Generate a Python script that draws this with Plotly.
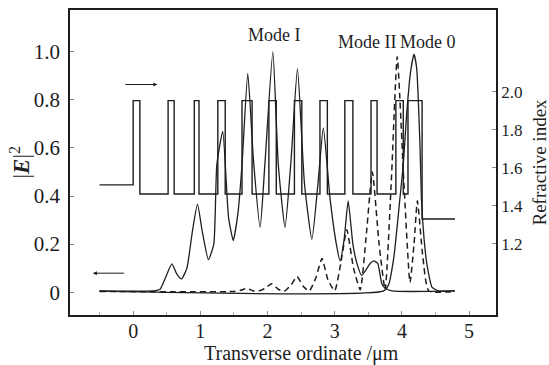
import plotly.graph_objects as go

# ---- Refractive index profile (step) ----
n_x = [-0.5, 0.0, 0.10, 0.52, 0.61, 0.91, 0.98, 1.26, 1.37, 1.62, 1.77, 2.02, 2.13,
       2.40, 2.51, 2.78, 2.89, 3.15, 3.27, 3.54, 3.63, 3.91, 4.02, 4.09, 4.30, 4.79]
n_v = [1.51, 1.953, 1.462, 1.953, 1.462, 1.953, 1.462, 1.953, 1.462, 1.953, 1.462,
       1.953, 1.462, 1.953, 1.462, 1.953, 1.462, 1.953, 1.462, 1.953, 1.462,
       1.953, 1.462, 1.953, 1.33, 1.33]

# ---- Mode I (solid) ----
m1_x = [-0.5, 0.30, 0.40, 0.48, 0.576, 0.65, 0.72, 0.80, 0.88, 0.957, 1.03, 1.12, 1.20,
        1.245, 1.333, 1.42, 1.49, 1.56, 1.62, 1.706, 1.79, 1.89, 1.96, 2.079, 2.16, 2.26,
        2.35, 2.445, 2.55, 2.66, 2.75, 2.83, 2.93, 3.03, 3.08, 3.14, 3.20, 3.27, 3.33,
        3.40, 3.53, 3.58, 3.64, 3.70, 3.75, 3.85, 4.79]
m1_v = [0.005, 0.005, 0.012, 0.06, 0.118, 0.075, 0.055, 0.10, 0.25, 0.366, 0.25, 0.135,
        0.20, 0.53, 0.669, 0.31, 0.215, 0.33, 0.53, 0.91, 0.55, 0.27, 0.53, 1.0, 0.53, 0.27,
        0.55, 0.93, 0.45, 0.22, 0.45, 0.683, 0.39, 0.19, 0.13, 0.22, 0.38, 0.20, 0.12,
        0.07, 0.12, 0.13, 0.12, 0.036, 0.017, 0.005, 0.005]

# ---- Mode II (dashed) ----
m2_x = [-0.5, 1.50, 1.60, 1.69, 1.78, 1.85, 1.96, 2.06, 2.16, 2.25, 2.35, 2.44, 2.53,
        2.62, 2.72, 2.81, 2.90, 3.00, 3.09, 3.18, 3.28, 3.38, 3.47, 3.56, 3.66, 3.75,
        3.84, 3.93, 4.03, 4.12, 4.18, 4.23, 4.31, 4.40, 4.79]
m2_v = [0.003, 0.003, 0.008, 0.015, 0.006, 0.003, 0.015, 0.035, 0.012, 0.004, 0.03, 0.065,
        0.025, 0.005, 0.06, 0.14, 0.05, 0.006, 0.12, 0.26, 0.10, 0.01, 0.24, 0.50, 0.20,
        0.01, 0.45, 0.98, 0.45, 0.04, 0.20, 0.38, 0.15, 0.005, 0.003]

# ---- Mode 0 (solid) ----
m0_x = [-0.5, 3.72, 3.80, 3.88, 3.97, 4.02, 4.07, 4.13, 4.18, 4.22, 4.27, 4.29, 4.33,
        4.37, 4.45, 4.55, 4.79]
m0_v = [0.004, 0.004, 0.03, 0.146, 0.39, 0.53, 0.74, 0.92, 0.99, 0.93, 0.60, 0.39, 0.22,
        0.12, 0.02, 0.005, 0.005]

x_ticks = [0, 1, 2, 3, 4, 5]
y1_ticks = [0, 0.2, 0.4, 0.6, 0.8, 1.0]
y1_text = ["0", "0.2", "0.4", "0.6", "0.8", "1.0"]
y2_ticks = [1.2, 1.4, 1.6, 1.8, 2.0]
y2_text = ["1.2", "1.4", "1.6", "1.8", "2.0"]

FONT = "Liberation Serif"
INK = "#1e1e1e"

fig = go.Figure()
fig.add_trace(go.Scatter(x=n_x, y=n_v, mode="lines", line=dict(shape="hv", color=INK, width=1.4),
                         yaxis="y2", showlegend=False))
fig.add_trace(go.Scatter(x=m1_x, y=m1_v, mode="lines",
                         line=dict(color=INK, width=1.3, shape="spline", smoothing=0.5),
                         showlegend=False))
fig.add_trace(go.Scatter(x=m2_x, y=m2_v, mode="lines",
                         line=dict(color=INK, width=1.5, dash="6px,4px", shape="spline", smoothing=0.5),
                         showlegend=False))
fig.add_trace(go.Scatter(x=m0_x, y=m0_v, mode="lines",
                         line=dict(color=INK, width=1.3, shape="spline", smoothing=0.5),
                         showlegend=False))

annos = [
    dict(x=2.1, y=1.07, text="Mode I", showarrow=False, xanchor="center", yanchor="middle",
         font=dict(family=FONT, size=18, color=INK)),
    dict(x=3.9, y=1.04, text="Mode II", showarrow=False, xanchor="right", yanchor="middle",
         xshift=3, font=dict(family=FONT, size=18, color=INK)),
    dict(x=3.95, y=1.04, text="Mode 0", showarrow=False, xanchor="left", yanchor="middle",
         xshift=-1, font=dict(family=FONT, size=18, color=INK)),
    # arrows
    dict(x=0.36, y=0.864, ax=-0.16, ay=0.864, axref="x", ayref="y", xref="x", yref="y",
         showarrow=True, arrowhead=2, arrowsize=0.8, arrowwidth=1, arrowcolor=INK, text=" "),
    dict(x=-0.6, y=0.079, ax=-0.09, ay=0.079, axref="x", ayref="y", xref="x", yref="y",
         showarrow=True, arrowhead=2, arrowsize=0.8, arrowwidth=1, arrowcolor=INK, text=" "),
    # axis titles
    dict(xref="x", x=2.5, yref="paper", y=0, yanchor="middle", yshift=-38,
         text="Transverse ordinate /μm", showarrow=False,
         font=dict(family=FONT, size=20, color=INK)),
    dict(xref="paper", yref="paper", x=0, y=0.5, xanchor="center", yanchor="middle", xshift=-50,
         text="|<b><i>E</i></b>|<sup>2</sup>", showarrow=False, textangle=-90,
         font=dict(family=FONT, size=23, color=INK)),
    dict(xref="paper", yref="paper", x=1, y=0.5, xanchor="center", yanchor="middle", xshift=43,
         text="Refractive index", showarrow=False, textangle=-90,
         font=dict(family=FONT, size=19, color=INK)),
]

fig.update_layout(
    width=549, height=365,
    margin=dict(l=70, r=53, t=8, b=50),
    paper_bgcolor="white", plot_bgcolor="white",
    font=dict(family=FONT, color=INK),
    annotations=annos,
    xaxis=dict(range=[-0.94, 5.40], tickvals=x_ticks, ticks="inside", ticklen=4,
               tickcolor="#888", showgrid=False, zeroline=False, showline=True, mirror=True,
               linecolor=INK, linewidth=1.5, tickfont=dict(family=FONT, size=20, color=INK),
               ticklabelstandoff=-3,
               minor=dict(dtick=0.5, ticks="inside", ticklen=3, tickcolor="#aaa")),
    yaxis=dict(range=[-0.095, 1.174], tickvals=y1_ticks, ticktext=y1_text, ticks="inside",
               ticklen=4, tickcolor="#888", showgrid=False, zeroline=False, showline=True,
               linecolor=INK, linewidth=1.5, tickfont=dict(family=FONT, size=21, color=INK),
               ticklabelstandoff=4),
    yaxis2=dict(range=[0.825, 2.43], overlaying="y", side="right", tickvals=y2_ticks,
                ticktext=y2_text, ticks="inside", ticklen=4, tickcolor="#888", showgrid=False,
                zeroline=False, showline=True, linecolor=INK, linewidth=1.5,
                tickfont=dict(family=FONT, size=17, color=INK)),
)

fig.write_html("out.html")
